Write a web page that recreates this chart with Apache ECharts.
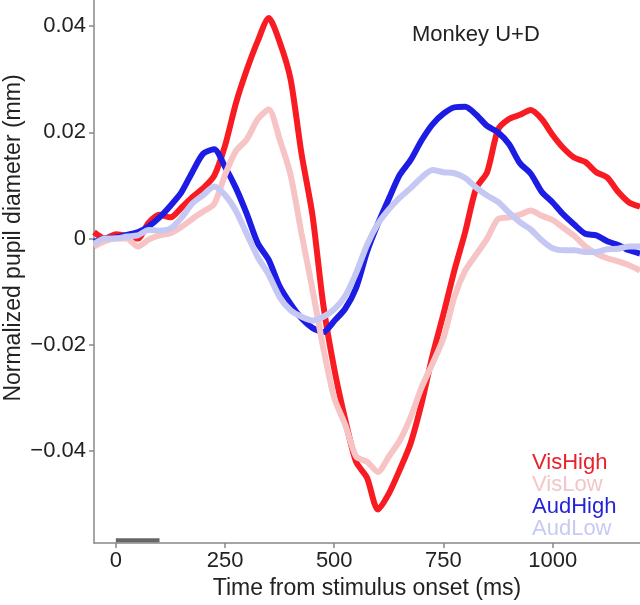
<!DOCTYPE html>
<html>
<head>
<meta charset="utf-8">
<script src="https://cdn.jsdelivr.net/npm/echarts@6/dist/echarts.min.js"></script>
<style>
html,body{margin:0;padding:0;background:#fff;}
#chart{width:640px;height:605px;}
</style>
</head>
<body>
<div id="chart"></div>
<script>
// Time axis (ms)
const timeMs = [-50,-25,0,25,50,75,100,125,150,175,200,225,250,275,300,325,350,375,400,425,450,475,500,525,550,575,600,625,650,675,700,725,750,775,800,825,850,875,900,925,950,975,1000,1025,1050,1075,1100,1125,1150,1175,1200];

const visHigh = [0.0012,0.0,0.0008,0.0005,0.0,0.003,0.0045,0.004,0.0058,0.0078,0.0095,0.0118,0.0175,0.0255,0.0318,0.0372,0.0415,0.037,0.030,0.016,0.0045,-0.0125,-0.0245,-0.034,-0.042,-0.045,-0.051,-0.048,-0.0435,-0.0385,-0.031,-0.022,-0.0142,-0.006,0.0013,0.0095,0.0125,0.0205,0.0225,0.0233,0.0242,0.0225,0.0195,0.017,0.0152,0.0144,0.0125,0.0115,0.0088,0.0068,0.006];

const visLow = [-0.0015,-0.0005,0.0,0.0,-0.0015,-0.0002,0.0006,0.001,0.0022,0.0037,0.0051,0.0065,0.012,0.0165,0.0187,0.0225,0.0243,0.0187,0.012,0.001,-0.0095,-0.0206,-0.030,-0.035,-0.041,-0.042,-0.0439,-0.041,-0.038,-0.0336,-0.028,-0.0235,-0.0187,-0.011,-0.006,-0.003,0.0,0.0037,0.004,0.0045,0.0053,0.0043,0.0035,0.002,0.0005,-0.0015,-0.0028,-0.0037,-0.0043,-0.005,-0.006];

const audHigh = [-0.0006,0.0,0.0002,0.0007,0.0012,0.0023,0.004,0.0062,0.0087,0.0125,0.016,0.0168,0.0135,0.0095,0.0046,-0.0009,-0.004,-0.009,-0.0123,-0.015,-0.0168,-0.0176,-0.0155,-0.0132,-0.0093,-0.0025,0.0028,0.0075,0.012,0.0148,0.0185,0.0215,0.0235,0.0247,0.0248,0.0233,0.0212,0.020,0.0178,0.0142,0.0122,0.0088,0.0068,0.0045,0.0026,0.0009,0.0006,-0.0005,-0.0012,-0.0022,-0.0028];

const audLow = [-0.001,0.0,0.0,0.0004,0.0006,0.0016,0.0015,0.0019,0.0039,0.0066,0.0082,0.0098,0.0082,0.0052,0.0008,-0.0035,-0.0068,-0.011,-0.0135,-0.0147,-0.0154,-0.0147,-0.0133,-0.0108,-0.0065,-0.0012,0.0028,0.0055,0.0077,0.0095,0.0115,0.0129,0.0125,0.0123,0.0114,0.0096,0.0081,0.0069,0.0049,0.0031,0.0017,-0.0003,-0.0018,-0.0022,-0.0022,-0.0025,-0.0025,-0.002,-0.0019,-0.0015,-0.0015];

const seriesNames = ['VisHigh','VisLow','AudHigh','AudLow'];
const xTicks = [0,250,500,750,1000];
const xTickLabels = ['0','250','500','750','1000'];
const yTicks = [-0.04,-0.02,0,0.02,0.04];
const yTickLabels = ['\u22120.04','\u22120.02','0','0.02','0.04'];
const stimWindow = [0,100];

const colors = {VisHigh:'#f81c22', VisLow:'#f6c4c4', AudHigh:'#1c1ce4', AudLow:'#c6c8f4'};
const legendColors = {VisHigh:'#e8222c', VisLow:'#f2c6c8', AudHigh:'#2424d6', AudLow:'#c8caf2'};
const dataMap = {VisHigh:visHigh, VisLow:visLow, AudHigh:audHigh, AudLow:audLow};

const Y_MIN = -0.0573, Y_MAX = 0.0449;
const FONT = '"Liberation Sans", Arial, Helvetica, sans-serif';

const chart = echarts.init(document.getElementById('chart'), null, {renderer:'canvas'});

const lineSeries = ['VisHigh','AudHigh','VisLow','AudLow'].map(name => ({
  name: name,
  type: 'line',
  data: timeMs.map((t,i) => [t, dataMap[name][i]]),
  showSymbol: false,
  smooth: 0.25,
  lineStyle: {color: colors[name], width: 6},
  itemStyle: {color: colors[name]},
  emphasis: {disabled: true},
  silent: true,
  z: 3
}));

lineSeries.push({
  name: 'stim',
  type: 'line',
  data: stimWindow.map(t => [t, Y_MIN + 0.00055]),
  showSymbol: false,
  lineStyle: {color: '#666666', width: 4, cap: 'butt'},
  silent: true,
  z: 4
});

function pick(ticks, labels, v) {
  const i = ticks.findIndex(t => Math.abs(t - v) < 1e-9);
  return i >= 0 ? labels[i] : '';
}

chart.setOption({
  animation: false,
  backgroundColor: '#ffffff',
  textStyle: {fontFamily: FONT},
  title: {
    text: 'Monkey U+D',
    left: 412, top: 24, padding: 0,
    textStyle: {fontFamily: FONT, fontSize: 22, fontWeight: 'normal', color: '#222'}
  },
  legend: {
    data: seriesNames.map(n => ({name: n, textStyle: {color: legendColors[n]}})),
    orient: 'vertical',
    left: 527, top: 452,
    icon: 'none',
    itemWidth: 0, itemHeight: 20, itemGap: 0,
    padding: 0,
    selectedMode: false,
    textStyle: {fontFamily: FONT, fontSize: 22, lineHeight: 20, padding: [0,0,0,0]}
  },
  grid: {left: 94, right: 0, top: 0, bottom: 58, containLabel: false},
  xAxis: {
    type: 'value',
    min: -50, max: 1200,
    name: 'Time from stimulus onset (ms)',
    nameLocation: 'middle',
    nameGap: 32,
    nameTextStyle: {fontFamily: FONT, fontSize: 23, color: '#222'},
    axisLine: {onZero: false, lineStyle: {color: '#888', width: 1.5}},
    axisTick: {show: true, length: 5, inside: false, customValues: xTicks, lineStyle: {color: '#888', width: 1.5}},
    axisLabel: {
      customValues: xTicks, margin: 7, fontFamily: FONT, fontSize: 22, color: '#222',
      formatter: v => pick(xTicks, xTickLabels, v)
    },
    splitLine: {show: false}
  },
  yAxis: {
    type: 'value',
    min: Y_MIN, max: Y_MAX,
    axisLine: {show: true, onZero: false, lineStyle: {color: '#888', width: 1.5}},
    axisTick: {show: true, length: 5, inside: false, customValues: yTicks, lineStyle: {color: '#888', width: 1.5}},
    axisLabel: {
      customValues: yTicks, margin: 8, fontFamily: FONT, fontSize: 22, color: '#222',
      formatter: v => pick(yTicks, yTickLabels, v)
    },
    splitLine: {show: false}
  },
  graphic: [{
    type: 'text',
    x: 14, y: 238,
    rotation: Math.PI / 2,
    style: {
      text: 'Normalized pupil diameter (mm)',
      fontFamily: FONT, fontSize: 23, fill: '#222',
      align: 'center', verticalAlign: 'middle'
    }
  }],
  series: lineSeries
});
</script>
</body>
</html>
